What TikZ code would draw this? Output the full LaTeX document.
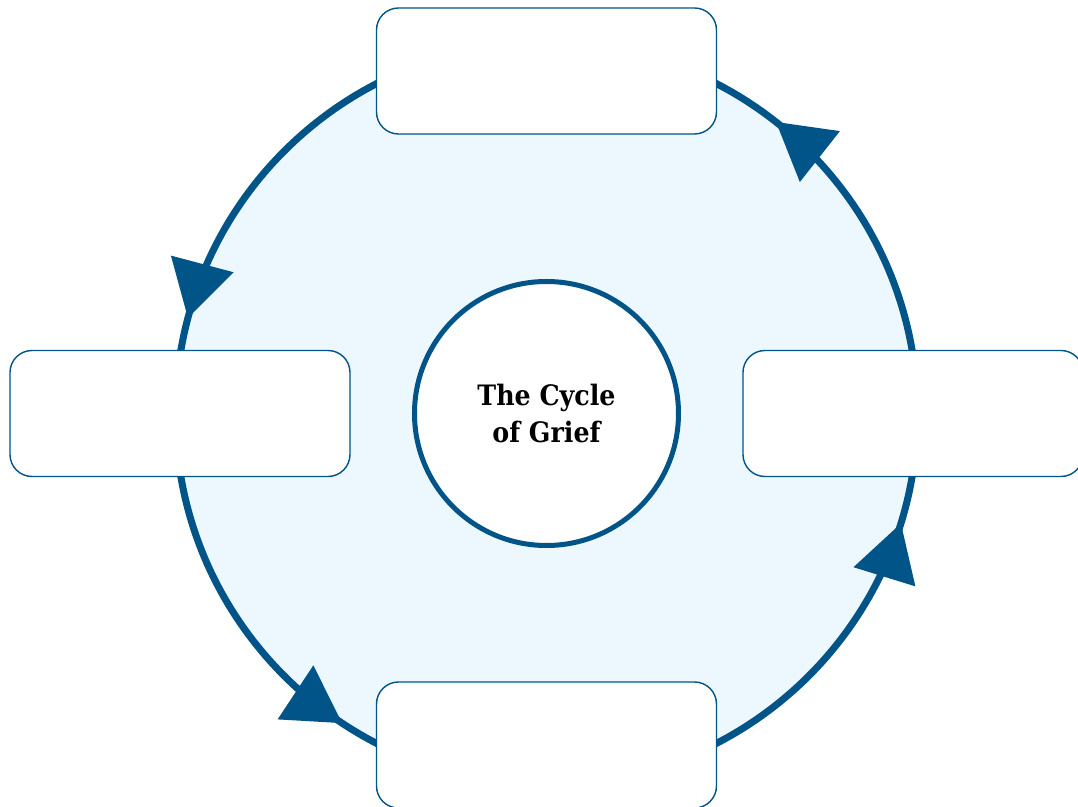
\documentclass[tikz,border=0pt]{standalone}
\usepackage{fontspec}
\newfontfamily\slabfont{DejaVu Serif Condensed}
\usetikzlibrary{arrows.meta,decorations.markings}
\definecolor{griefblue}{RGB}{0,84,136}
\definecolor{griefpale}{RGB}{236,247,254}
\tikzset{griefhead/.tip = {Triangle[length=1.12cm, width=1.26cm]}}

\begin{document}
\begin{tikzpicture}[node distance={7.33cm}, thick,
    ring/.style = {draw=griefblue, line width=0.14cm, fill=griefpale},
    hub/.style = {draw=griefblue, line width=0.1cm, fill=white, circle, minimum size=5.28cm, inner sep=0pt, align=center, font=\slabfont\bfseries\fontsize{16}{21}\selectfont},
    stage/.style = {draw=griefblue, line width=0.8pt, fill=white, rounded corners=0.44cm, minimum width=6.8cm, minimum height=2.52cm}]
    \useasboundingbox (-10.93,-7.87) rectangle (10.63,8.27);
    \draw[ring, postaction={decorate}, decoration={markings,
        mark=at position 0.1439 with {\arrow[griefblue]{griefhead}},
        mark=at position 0.4586 with {\arrow[griefblue]{griefhead}},
        mark=at position 0.6572 with {\arrow[griefblue]{griefhead}},
        mark=at position 0.9522 with {\arrow[griefblue]{griefhead}}}]
        (0,0) circle (7.42);
    \node[hub] (hub) at (0,0) {The Cycle\\of Grief};
    \node[stage] (top) [above of=hub, node distance=6.85cm] {};
    \node[stage] (left) [left of=hub] {};
    \node[stage] (bottom) [below of=hub, node distance=6.63cm] {};
    \node[stage] (right) [right of=hub] {};
\end{tikzpicture}
\end{document}
